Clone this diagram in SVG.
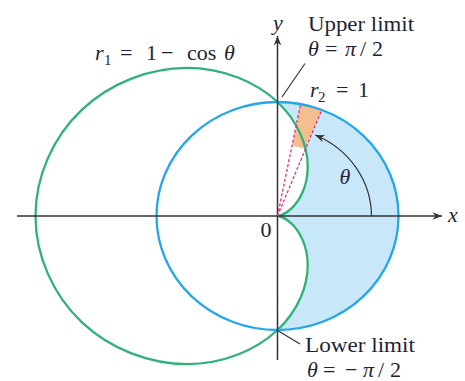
<svg xmlns="http://www.w3.org/2000/svg" width="465" height="381" viewBox="0 0 465 381">
<style>
text{font-family:"Liberation Serif","Times New Roman",serif;fill:#1f1f38;font-size:22px}
.it{font-style:italic}
.sub{font-size:15px}
.axis{stroke:#333;stroke-width:1.5;fill:none}
.lead{stroke:#333;stroke-width:1.2;fill:none}
.ray{stroke:#e82a84;stroke-width:1.3;stroke-dasharray:3 2;fill:none}
.curve{fill:none;stroke-width:2.3}
</style>
<defs>
<marker id="arr" viewBox="-10 -5 11 10" refX="0" refY="0" markerWidth="11" markerHeight="10" markerUnits="userSpaceOnUse" orient="auto">
<path d="M0,0 L-9.5,-3.8 L-6.5,0 L-9.5,3.8 Z" fill="#333"/>
</marker>
</defs>
<g id="region">
<path transform="translate(277.5,216) scale(1.21,-1.14)" fill="#c8e8f9" d="M0,100 A100,100 0 0 0 0,-100 C17.453,-82.547 25,-60.753 25,-43.3 C25,-25.847 17.991,-13.088 11.603,-6.7 C5.215,-0.312 0,0 0,0 C0,0 5.215,0.312 11.603,6.7 C17.991,13.088 25,25.847 25,43.3 C25,60.753 17.453,82.547 0,100 Z"/>
</g>
<g id="wedge">
<path d="M300.6,104.1 A121,114 0 0 1 321.8,109.9 L304.8,148.3 L292.2,146 Z" fill="#f4bf8e"/>
</g>
<g id="cardioid">
<path class="curve" stroke="#2fb27a" vector-effect="non-scaling-stroke" transform="translate(277.5,216) scale(1.21,-1.14)" d="M0,0 C0,0 5.215,0.312 11.603,6.7 C17.991,13.088 25,25.847 25,43.3 C25,60.753 17.453,82.547 0,100 C-17.453,117.453 -44.77,129.9 -75,129.9 C-105.23,129.9 -137.759,117.141 -161.6,93.3 C-185.441,69.459 -200,34.907 -200,0 C-200,-34.907 -185.441,-69.459 -161.6,-93.3 C-137.759,-117.141 -105.23,-129.9 -75,-129.9 C-44.77,-129.9 -17.453,-117.453 0,-100 C17.453,-82.547 25,-60.753 25,-43.3 C25,-25.847 17.991,-13.088 11.603,-6.7 C5.215,-0.312 0,0 0,0 Z"/>
</g>
<g id="circle">
<ellipse class="curve" stroke="#25a6e6" cx="277.5" cy="216" rx="121" ry="114"/>
</g>
<g id="connectors">
<line class="axis" x1="17" y1="216" x2="442" y2="216" marker-end="url(#arr)"/>
<line class="axis" x1="277.5" y1="360" x2="277.5" y2="36" marker-end="url(#arr)"/>
<line class="ray" x1="277.5" y1="216" x2="300.6" y2="104.1"/>
<line class="ray" x1="277.5" y1="216" x2="321.8" y2="109.9"/>
<path class="lead" d="M371.5,216 A94,89 0 0 0 315.2,135" marker-end="url(#arr)"/>
<line class="lead" x1="305" y1="63.5" x2="282" y2="97"/>
<line class="lead" x1="278.5" y1="331" x2="300" y2="344"/>
</g>
<g id="labels">
<text class="it" x="278" y="30" text-anchor="middle">y</text>
<text class="it" x="453" y="222" text-anchor="middle">x</text>
<text x="266" y="237" text-anchor="middle" font-size="21">0</text>
<text class="it" x="345" y="183.5" text-anchor="middle">θ</text>
<text x="308" y="31" textLength="106" lengthAdjust="spacingAndGlyphs">Upper limit</text>
<text y="56"><tspan class="it" x="308">θ</tspan><tspan x="325">=</tspan><tspan class="it" x="345">π</tspan><tspan x="360">/</tspan><tspan x="372">2</tspan></text>
<text y="97"><tspan class="it" x="310">r</tspan><tspan class="sub" x="318" dy="5">2</tspan><tspan x="336" dy="-5">=</tspan><tspan x="358">1</tspan></text>
<text y="60"><tspan class="it" x="95">r</tspan><tspan class="sub" x="104" dy="5">1</tspan><tspan x="120" dy="-5">=</tspan><tspan x="146">1</tspan><tspan x="161">−</tspan><tspan x="187">cos</tspan><tspan class="it" x="224">θ</tspan></text>
<text x="305" y="351.5" font-size="20" textLength="110" lengthAdjust="spacingAndGlyphs">Lower limit</text>
<text y="376.5" font-size="20"><tspan class="it" x="307">θ</tspan><tspan x="323">=</tspan><tspan x="345">−</tspan><tspan class="it" x="363">π</tspan><tspan x="378">/</tspan><tspan x="390">2</tspan></text>
</g>
</svg>
